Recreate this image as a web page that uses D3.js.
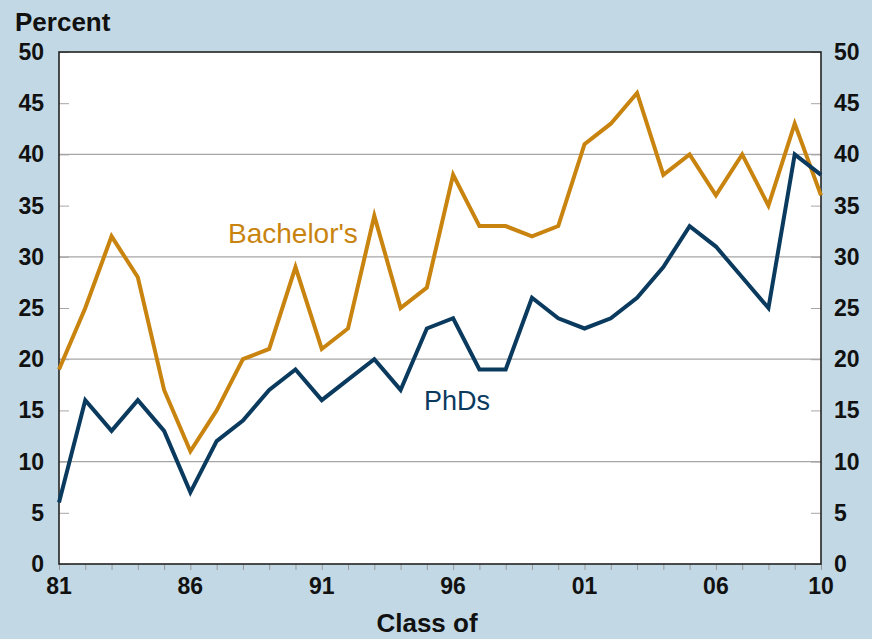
<!DOCTYPE html>
<html><head><meta charset="utf-8">
<script src="https://cdn.jsdelivr.net/npm/d3@7"></script>
<style>body{margin:0;background:#c2d9e5;}svg{display:block;font-family:"Liberation Sans",Arial,sans-serif;}</style>
</head><body>
<svg id="c" width="872" height="639"></svg>
<script>
const years = d3.range(1981, 2011);
const bachelors = [19,25,32,28,17,11,15,20,21,29,21,23,34,25,27,38,33,33,32,33,41,43,46,38,40,36,40,35,43,36];
const phds = [6,16,13,16,13,7,12,14,17,19,16,18,20,17,23,24,19,19,26,24,23,24,26,29,33,31,28,25,40,38];
const xTickYears = [1981,1986,1991,1996,2001,2006,2010];
const yTicks = [0,5,10,15,20,25,30,35,40,45,50];
const gridTicks = [10,20,30,40];

const svg = d3.select("#c");
const L=59, R=821, T=52, B=564;
const x = d3.scaleLinear().domain([1981,2010]).range([L,R]);
const y = d3.scaleLinear().domain([0,50]).range([B,T]);

svg.append("rect").attr("width",872).attr("height",639).attr("fill","#c2d9e5");
svg.append("rect").attr("x",L).attr("y",T).attr("width",R-L).attr("height",B-T).attr("fill","#fff");

// gridlines
svg.append("g").selectAll("line").data(gridTicks).join("line")
  .attr("x1",L).attr("x2",R).attr("y1",d=>y(d)).attr("y2",d=>y(d))
  .attr("stroke","#a6a6a6").attr("stroke-width",1.2);

// inner ticks left/right
svg.append("g").attr("transform",`translate(${L},0)`)
  .call(d3.axisRight(y).tickValues(yTicks).tickSize(10).tickFormat(""))
  .call(g=>g.select(".domain").remove())
  .call(g=>g.selectAll("line").attr("stroke","#a6a6a6"));
svg.append("g").attr("transform",`translate(${R},0)`)
  .call(d3.axisLeft(y).tickValues(yTicks).tickSize(10).tickFormat(""))
  .call(g=>g.select(".domain").remove())
  .call(g=>g.selectAll("line").attr("stroke","#a6a6a6"));
// bottom ticks
svg.append("g").attr("transform",`translate(0,${B})`)
  .call(d3.axisBottom(x).tickValues(years).tickSize(6).tickFormat(""))
  .call(g=>g.select(".domain").remove())
  .call(g=>g.selectAll("line").attr("stroke","#999"));

// frame
svg.append("rect").attr("x",L).attr("y",T).attr("width",R-L).attr("height",B-T)
  .attr("fill","none").attr("stroke","#222").attr("stroke-width",1.6);

// tick labels
svg.append("g").selectAll("text").data(yTicks).join("text")
  .attr("x",L-15).attr("y",d=>y(d)+8).attr("text-anchor","end").text(d=>d)
  .attr("font-size","23px").attr("font-weight","bold").attr("fill","#111");
svg.append("g").selectAll("text").data(yTicks).join("text")
  .attr("x",R+13).attr("y",d=>y(d)+8).attr("text-anchor","start").text(d=>d)
  .attr("font-size","23px").attr("font-weight","bold").attr("fill","#111");
svg.append("g").selectAll("text").data(xTickYears).join("text")
  .attr("x",d=>x(d)).attr("y",594).attr("text-anchor","middle")
  .text(d=>String(d%100).padStart(2,"0"))
  .attr("font-size","23px").attr("font-weight","bold").attr("fill","#111");

svg.append("text").attr("x",15).attr("y",31).text("Percent")
  .attr("font-size","26px").attr("font-weight","bold").attr("fill","#111");
svg.append("text").attr("x",427).attr("y",632).attr("text-anchor","middle").text("Class of")
  .attr("font-size","26px").attr("font-weight","bold").attr("fill","#111");

const line = d3.line().x((d,i)=>x(years[i])).y(d=>y(d));
svg.append("path").datum(bachelors).attr("d",line).attr("fill","none")
  .attr("stroke","#c8840f").attr("stroke-width",4).attr("stroke-linejoin","miter");
svg.append("path").datum(phds).attr("d",line).attr("fill","none")
  .attr("stroke","#0b3a5f").attr("stroke-width",4).attr("stroke-linejoin","miter");

svg.append("text").attr("x",228).attr("y",243).text("Bachelor's")
  .attr("font-size","28px").attr("fill","#c8840f");
svg.append("text").attr("x",424).attr("y",410).text("PhDs")
  .attr("font-size","27px").attr("fill","#0b3a5f");
</script>
</body></html>
